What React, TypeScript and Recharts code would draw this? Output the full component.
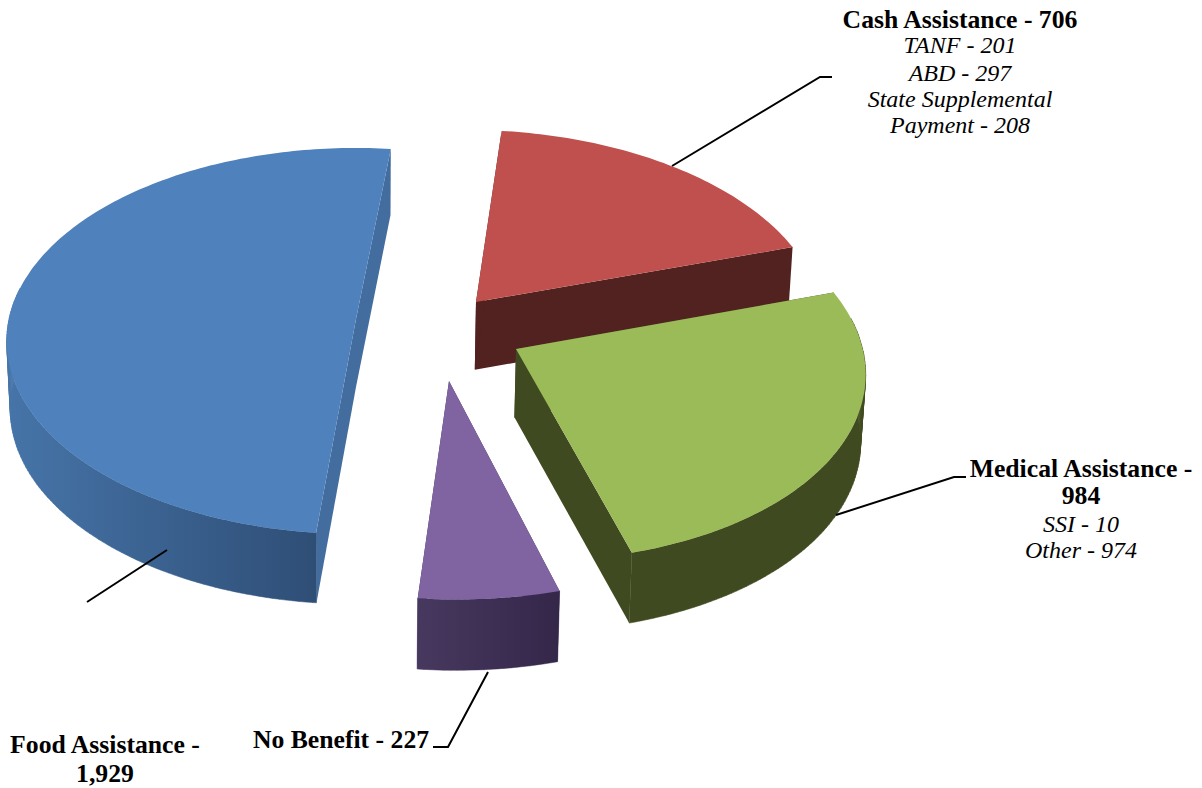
import React from "react"
import { PieChart, Pie } from "recharts"

const NAMES = ["Cash Assistance", "Food Assistance", "No Benefit", "Medical Assistance"]
const VALUES = [706, 1929, 227, 984]
const TOP_COLORS = ["#c0504d", "#4f81bd", "#8064a2", "#9bbb59"]

const tableData = NAMES.map((name, i) => ({ name, value: VALUES[i], fill: TOP_COLORS[i] }))

// 3d look: plane tilt and extrusion
const SQUASH = 0.549
const DEPTH = 68
const DEPTH_PERSP = 0.03
const SHRINK = 0.01
const FIRST_ANGLE = 17.5

// exploded offset of each slice's tip from the pie centre, in pixels
const TIP_OFFSETS: Record<string, [number, number]> = {
  "Cash Assistance": [120, -17],
  "Food Assistance": [0, 0],
  "No Benefit": [93, 62],
  "Medical Assistance": [160, 30],
}
const PERSP: Record<string, number> = {
  "Cash Assistance": 0.09,
  "Food Assistance": 0.114,
  "No Benefit": 0.08,
  "Medical Assistance": 0.09,
}
const RADIUS_SCALE: Record<string, number> = {
  "Cash Assistance": 1,
  "Food Assistance": 1,
  "No Benefit": 1,
  "Medical Assistance": 0.985,
}
const RADIAL_WALLS: Record<string, string> = {
  "Cash Assistance": "#512220",
  "Food Assistance": "#426d9e",
  "No Benefit": "#3a2e50",
  "Medical Assistance": "#3f4a20",
}
const RIM_STOPS: Record<string, [string, string]> = {
  "Cash Assistance": ["#512220", "#512220"],
  "Food Assistance": ["#4674a8", "#29456a"],
  "No Benefit": ["#47385f", "#35274a"],
  "Medical Assistance": ["#3f4a20", "#3f4a20"],
}

const gradId = (name: string) => "rim-" + name.replace(" ", "-")

function Slice3D(props: any) {
  const { cx, cy, outerRadius, startAngle, endAngle, name, fill } = props
  const R = outerRadius
  const S = outerRadius * SQUASH
  const k = PERSP[name]
  const scale = RADIUS_SCALE[name]
  const [ox, oy] = TIP_OFFSETS[name]
  // undo the perspective so the slice tip lands on its screen offset
  const ty = -oy / (S + k * oy)
  const tx = (ox * (1 + k * ty)) / R

  const project = (px: number, py: number, down: boolean) => {
    const w = 1 + k * py
    const X = (R * px) / w
    const Y = (-S * py) / w
    if (!down) return [cx + X, cy + Y]
    return [cx + X * (1 - SHRINK), cy + Y + DEPTH / (1 + DEPTH_PERSP * py)]
  }
  const rimPoint = (deg: number, down: boolean) => {
    const a = (deg * Math.PI) / 180
    return project(tx + scale * Math.cos(a), ty + scale * Math.sin(a), down)
  }
  const toPath = (pts: number[][]) =>
    "M" + pts.map((p) => p[0].toFixed(1) + "," + p[1].toFixed(1)).join("L") + "Z"

  const angles: number[] = []
  for (let a = startAngle; a < endAngle; a += 1) angles.push(a)
  angles.push(endAngle)

  const tipTop = project(tx, ty, false)
  const tipDown = project(tx, ty, true)
  const rimTop = angles.map((a) => rimPoint(a, false))
  const rimDown = angles.map((a) => rimPoint(a, true))
  const last = angles.length - 1
  const xs = rimDown.map((p) => p[0])
  const x1 = Math.min(...xs)
  const x2 = Math.max(...xs)

  // only the part of the rim that faces the viewer, as small quads
  const rimPath = rimTop
    .slice(0, last)
    .map((p, i) =>
      Math.sin((angles[i] * Math.PI) / 180) < 0.15 || Math.sin((angles[i + 1] * Math.PI) / 180) < 0.15
        ? toPath([p, rimTop[i + 1], rimDown[i + 1], rimDown[i]])
        : ""
    )
    .join("")

  return (
    <g>
      <defs>
        <linearGradient id={gradId(name)} gradientUnits="userSpaceOnUse" x1={x1} x2={x2} y1={0} y2={0}>
          <stop offset="0%" stopColor={RIM_STOPS[name][0]} />
          <stop offset="100%" stopColor={RIM_STOPS[name][1]} />
        </linearGradient>
      </defs>
      <path d={toPath([tipTop, rimTop[0], rimDown[0], tipDown])} fill={RADIAL_WALLS[name]} />
      <path d={toPath([tipTop, rimTop[last], rimDown[last], tipDown])} fill={RADIAL_WALLS[name]} />
      {rimPath && (
        <path d={rimPath} fill={`url(#${gradId(name)})`} stroke={`url(#${gradId(name)})`} strokeWidth={0.5} />
      )}
      <path d={toPath([tipTop, ...rimTop])} fill={fill} />
    </g>
  )
}

const HEADINGS: Record<string, string[]> = {
  "Cash Assistance": ["Cash Assistance - 706"],
  "Food Assistance": ["Food Assistance -", "1,929"],
  "No Benefit": ["No Benefit - 227"],
  "Medical Assistance": ["Medical Assistance -", "984"],
}
const DETAILS: Record<string, string[]> = {
  "Cash Assistance": ["TANF - 201", "ABD - 297", "State Supplemental", "Payment - 208"],
  "Food Assistance": [],
  "No Benefit": [],
  "Medical Assistance": ["SSI - 10", "Other - 974"],
}
const LABEL_POS: Record<string, { x: number; ys: number[]; leader: string }> = {
  "Cash Assistance": { x: 960, ys: [28, 53, 81, 107, 133], leader: "672,166 820,77 832,77" },
  "Food Assistance": { x: 105, ys: [753, 782], leader: "167,550 87,602" },
  "No Benefit": { x: 341, ys: [748], leader: "488,672 448,747 433,747" },
  "Medical Assistance": { x: 1081, ys: [477, 504, 532, 558], leader: "836,515 954,477 966,477" },
}

const FONT = "'Liberation Serif', serif"

function renderLabel(props: any) {
  const name = props.name
  const pos = LABEL_POS[name]
  const head = HEADINGS[name]
  const rows = [...head, ...DETAILS[name]]
  return (
    <g key={name}>
      <polyline points={pos.leader} fill="none" stroke="#000" strokeWidth={2} />
      {rows.map((row, i) => (
        <text
          key={row}
          x={pos.x}
          y={pos.ys[i]}
          textAnchor="middle"
          fontFamily={FONT}
          fill="#000"
          fontSize={i < head.length ? 25.7 : 24}
          fontWeight={i < head.length ? "bold" : "normal"}
          fontStyle={i < head.length ? "normal" : "italic"}
        >
          {row}
        </text>
      ))}
    </g>
  )
}

export default function App() {
  return (
    <div style={{ position: "absolute", left: 0, top: 0, width: 1202, height: 788, background: "#fff" }}>
      <PieChart width={1202} height={788} margin={{ top: 0, right: 0, bottom: 0, left: 0 }}>
        <Pie
          data={tableData}
          dataKey="value"
          nameKey="name"
          cx={356}
          cy={319}
          outerRadius={347}
          startAngle={FIRST_ANGLE}
          endAngle={FIRST_ANGLE + 360}
          paddingAngle={0}
          stroke="none"
          shape={Slice3D}
          label={renderLabel}
          labelLine={false}
          isAnimationActive={false}
        />
      </PieChart>
    </div>
  )
}
